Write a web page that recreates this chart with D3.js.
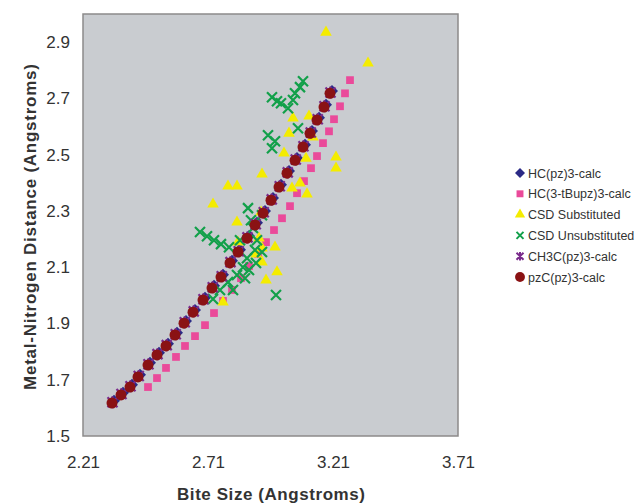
<!DOCTYPE html>
<html>
<head>
<meta charset="utf-8">
<script src="https://cdn.jsdelivr.net/npm/d3@7"></script>
<style>
  body { margin: 0; background: #fff; }
  text { font-family: "Liberation Sans", Arial, sans-serif; fill: #333; }
</style>
</head>
<body>
<svg width="636" height="504"></svg>
<script>
// series names (legend order = drawing order)
var seriesNames = ["HC(pz)3-calc", "HC(3-tBupz)3-calc", "CSD Substituted", "CSD Unsubstituted", "CH3C(pz)3-calc", "pzC(pz)3-calc"];

var xTicks = [2.21, 2.71, 3.21, 3.71];
var yTicks = [1.5, 1.7, 1.9, 2.1, 2.3, 2.5, 2.7, 2.9];

// HC(pz)3-calc
var hcX = [2.334, 2.370, 2.406, 2.438, 2.478, 2.514, 2.550, 2.586, 2.622, 2.658, 2.698, 2.734, 2.770, 2.806, 2.838, 2.874, 2.906, 2.938, 2.970, 3.002, 3.034, 3.066, 3.098, 3.126, 3.154, 3.182, 3.206];
var hcY = [1.625, 1.654, 1.682, 1.718, 1.760, 1.796, 1.828, 1.867, 1.909, 1.948, 1.991, 2.034, 2.073, 2.123, 2.162, 2.211, 2.258, 2.300, 2.346, 2.393, 2.442, 2.488, 2.535, 2.584, 2.631, 2.677, 2.726];

// HC(3-tBupz)3-calc
var tbX = [2.470, 2.506, 2.542, 2.582, 2.618, 2.658, 2.698, 2.734, 2.770, 2.806, 2.842, 2.874, 2.910, 2.942, 2.974, 3.006, 3.038, 3.066, 3.094, 3.122, 3.146, 3.170, 3.194, 3.214, 3.238, 3.258, 3.278];
var tbY = [1.674, 1.706, 1.742, 1.781, 1.820, 1.855, 1.894, 1.937, 1.980, 2.019, 2.061, 2.104, 2.147, 2.189, 2.232, 2.274, 2.317, 2.363, 2.406, 2.452, 2.495, 2.541, 2.583, 2.626, 2.672, 2.718, 2.765];

// CSD Substituted
var subX = [3.182, 3.350, 3.050, 3.114, 3.034, 3.014, 3.102, 3.222, 3.222, 2.926, 2.790, 2.826, 3.046, 3.078, 3.106, 2.730, 2.922, 2.826, 2.830, 2.926, 2.978, 2.926, 2.986, 2.770, 2.902, 2.914, 2.942, 3.130];
var subY = [2.935, 2.825, 2.630, 2.637, 2.576, 2.505, 2.487, 2.491, 2.452, 2.431, 2.388, 2.388, 2.381, 2.399, 2.360, 2.324, 2.296, 2.260, 2.189, 2.168, 2.171, 2.118, 2.083, 1.976, 2.146, 2.203, 2.054, 2.562];

// CSD Unsubstituted
var unX = [2.966, 3.002, 3.030, 3.058, 3.078, 3.090, 3.050, 2.950, 2.978, 2.966, 3.070, 2.706, 2.734, 2.762, 2.794, 2.678, 2.870, 2.882, 2.890, 2.906, 2.898, 2.866, 2.850, 2.826, 2.790, 2.758, 2.730, 2.858, 2.902, 2.926, 2.982, 2.926, 2.838, 2.810, 2.986, 2.874];
var unY = [2.704, 2.683, 2.665, 2.718, 2.740, 2.761, 2.694, 2.569, 2.548, 2.523, 2.594, 2.210, 2.196, 2.182, 2.171, 2.225, 2.310, 2.267, 2.239, 2.196, 2.161, 2.132, 2.100, 2.072, 2.047, 2.019, 1.987, 2.061, 2.115, 2.154, 2.001, 2.285, 2.196, 2.019, 2.690, 2.090];

// CH3C(pz)3-calc
var meX = [2.328, 2.364, 2.400, 2.433, 2.472, 2.508, 2.545, 2.581, 2.617, 2.653, 2.692, 2.729, 2.765, 2.800, 2.833, 2.868, 2.901, 2.933, 2.965, 2.997, 3.029, 3.061, 3.092, 3.121, 3.149, 3.176, 3.200];
var meY = [1.620, 1.649, 1.677, 1.713, 1.755, 1.791, 1.823, 1.862, 1.904, 1.943, 1.986, 2.029, 2.068, 2.118, 2.157, 2.206, 2.253, 2.295, 2.341, 2.388, 2.437, 2.483, 2.530, 2.579, 2.626, 2.672, 2.721];

// pzC(pz)3-calc
var pzX = [2.326, 2.362, 2.398, 2.430, 2.470, 2.506, 2.542, 2.578, 2.614, 2.650, 2.690, 2.726, 2.762, 2.798, 2.830, 2.866, 2.898, 2.930, 2.962, 2.994, 3.026, 3.058, 3.090, 3.118, 3.146, 3.174, 3.198];
var pzY = [1.617, 1.646, 1.674, 1.710, 1.752, 1.788, 1.820, 1.859, 1.901, 1.940, 1.983, 2.026, 2.065, 2.115, 2.154, 2.203, 2.250, 2.292, 2.338, 2.385, 2.434, 2.480, 2.527, 2.576, 2.623, 2.669, 2.718];

(function() {
var svg = d3.select("svg");
var mLeft = 83, mRight = 458, mTop = 14, mBottom = 436;

var x = d3.scaleLinear().domain([2.21, 3.71]).range([mLeft, mRight]);
var y = d3.scaleLinear().domain([1.5, 3.0]).range([mBottom, mTop]);

function zip(xs, ys) { return xs.map(function(v, i) { return [v, ys[i]]; }); }

// plot area
svg.append("rect")
    .attr("x", mLeft).attr("y", mTop)
    .attr("width", mRight - mLeft).attr("height", mBottom - mTop)
    .attr("fill", "#c9ccd0")
    .attr("stroke", "#8c8a8a")
    .attr("stroke-width", 1.5);

// axes
var yAxis = svg.append("g")
    .attr("transform", "translate(" + mLeft + ",0)")
    .call(d3.axisLeft(y).tickValues(yTicks).tickSize(0).tickPadding(13).tickFormat(d3.format(".1f")));
yAxis.select(".domain").remove();
yAxis.selectAll("text").attr("font-size", "17px").attr("fill", "#333").attr("font-family", "Liberation Sans, Arial, sans-serif");

var xAxis = svg.append("g")
    .attr("transform", "translate(0," + mBottom + ")")
    .call(d3.axisBottom(x).tickValues(xTicks).tickSize(0).tickPadding(20).tickFormat(d3.format(".2f")));
xAxis.select(".domain").remove();
xAxis.selectAll("text").attr("font-size", "17px").attr("fill", "#333").attr("font-family", "Liberation Sans, Arial, sans-serif");

svg.append("text")
    .attr("x", 271).attr("y", 500)
    .attr("text-anchor", "middle")
    .attr("font-size", "17px")
    .attr("font-weight", "bold")
    .attr("textLength", 188)
    .text("Bite Size (Angstroms)");

svg.append("text")
    .attr("transform", "translate(36,227) rotate(-90)")
    .attr("text-anchor", "middle")
    .attr("font-size", "17px")
    .attr("font-weight", "bold")
    .attr("textLength", 326)
    .text("Metal-Nitrogen Distance (Angstroms)");

// marker helpers
function crossPath(r) {
    return "M" + (-r) + "," + (-r) + "L" + r + "," + r + "M" + (-r) + "," + r + "L" + r + "," + (-r);
}
function starPath(r) {
    return crossPath(r) + "M0," + (-r * 1.2) + "L0," + (r * 1.2);
}
function diamondPath(r) {
    return "M0," + (-r) + "L" + r + ",0L0," + r + "L" + (-r) + ",0Z";
}

var styles = [
    { path: diamondPath(6), fill: "#2b2a86" },
    { sym: d3.symbolSquare, size: 60, fill: "#ea4a9a" },
    { sym: d3.symbolTriangle, size: 58, fill: "#f4ec00" },
    { cross: 5, stroke: "#12a04a", width: 2.2 },
    { cross: 5, star: true, stroke: "#7a2b8c", width: 2.2 },
    { sym: d3.symbolCircle, size: 95, fill: "#8a1214" }
];

var allData = [zip(hcX, hcY), zip(tbX, tbY), zip(subX, subY), zip(unX, unY), zip(meX, meY), zip(pzX, pzY)];

allData.forEach(function(data, k) {
    var st = styles[k];
    var g = svg.append("g");
    var pts = g.selectAll("path")
        .data(data)
        .enter().append("path")
        .attr("transform", function(d) { return "translate(" + x(d[0]) + "," + y(d[1]) + ")"; });
    if (st.cross) {
        pts.attr("d", st.star ? starPath(st.cross) : crossPath(st.cross))
            .attr("fill", "none")
            .attr("stroke", st.stroke)
            .attr("stroke-width", st.width);
    } else if (st.path) {
        pts.attr("d", st.path).attr("fill", st.fill);
    } else {
        pts.attr("d", d3.symbol().type(st.sym).size(st.size))
            .attr("fill", st.fill);
    }
});

// legend
var legend = svg.append("g").attr("transform", "translate(520,173)");
seriesNames.forEach(function(name, k) {
    var st = styles[k];
    var row = legend.append("g").attr("transform", "translate(0," + (k * 20.8) + ")");
    if (st.cross) {
        row.append("path").attr("d", st.star ? starPath(3.5) : crossPath(3.5))
            .attr("fill", "none").attr("stroke", st.stroke).attr("stroke-width", 2);
    } else if (st.path) {
        row.append("path").attr("d", diamondPath(5)).attr("fill", st.fill);
    } else {
        row.append("path").attr("d", d3.symbol().type(st.sym).size(st.size * 0.8)).attr("fill", st.fill);
    }
    row.append("text")
        .attr("x", 8).attr("y", 4.5)
        .attr("font-size", "12.5px")
        .text(name);
});
})();
</script>
</body>
</html>
